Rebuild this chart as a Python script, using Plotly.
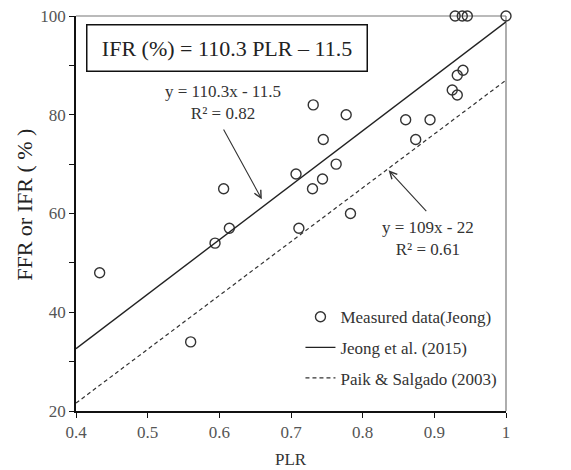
import plotly.graph_objects as go

# Measured PLR vs FFR/IFR (Jeong)
plr = [0.433, 0.560, 0.594, 0.606, 0.614, 0.707, 0.711, 0.730, 0.731, 0.744,
       0.745, 0.763, 0.777, 0.783, 0.860, 0.874, 0.894, 0.925, 0.932, 0.932,
       0.940, 0.929, 0.939, 0.946, 1.000]
ffr = [48, 34, 54, 65, 57, 68, 57, 65, 82, 67,
       75, 70, 80, 60, 79, 75, 79, 85, 88, 84,
       89, 100, 100, 100, 100]

# Regression lines: slope, intercept
jeong_coef = (110.3, -11.5)
paik_coef = (109.0, -22.0)
line_x = [0.4, 1.0]

x_ticks = [0.4, 0.5, 0.6, 0.7, 0.8, 0.9, 1.0]
x_tick_text = ["0.4", "0.5", "0.6", "0.7", "0.8", "0.9", "1"]
y_ticks = [20, 30, 40, 50, 60, 70, 80, 90, 100]
y_tick_text = ["20", "", "40", "", "60", "", "80", "", "100"]

FONT = "Liberation Serif, Times New Roman, serif"

fig = go.Figure()

fig.add_trace(go.Scatter(
    x=plr, y=ffr, mode="markers", name="Measured data(Jeong)",
    marker=dict(symbol="circle-open", size=10, color="#333333",
                line=dict(width=1.4, color="#333333")),
    cliponaxis=False, legendgroup="a",
))
fig.add_trace(go.Scatter(
    x=line_x, y=[jeong_coef[0] * v + jeong_coef[1] for v in line_x],
    mode="lines", name="Jeong et al. (2015)",
    line=dict(color="#222222", width=1.4), legendgroup="b",
))
fig.add_trace(go.Scatter(
    x=line_x, y=[paik_coef[0] * v + paik_coef[1] for v in line_x],
    mode="lines", name="Paik & Salgado (2003)",
    line=dict(color="#333333", width=1.2, dash="4px,3px"), legendgroup="c",
))

# Frame: top and right edges in lighter grey
fig.add_shape(type="line", xref="paper", yref="paper", x0=0, x1=1, y0=1, y1=1,
              line=dict(color="#777777", width=1.2), layer="below")
fig.add_shape(type="line", xref="paper", yref="paper", x0=1, x1=1, y0=0, y1=1,
              line=dict(color="#777777", width=1.2), layer="below")

annotations = [
    dict(text="IFR (%) = 110.3 PLR – 11.5", xref="paper", yref="paper",
         x=0.3512, y=0.919, xanchor="center", yanchor="middle", showarrow=False,
         font=dict(family=FONT, size=22, color="#222222"),
         bordercolor="#111111", borderwidth=1.5, borderpad=0,
         width=279, height=45, bgcolor="white"),
    dict(text="y = 110.3x - 11.5<br>R² = 0.82", x=0.6048, y=77.32,
         showarrow=False, xanchor="center", yanchor="bottom", yshift=3,
         font=dict(family=FONT, size=17, color="#333333")),
    dict(text="", x=0.6593, y=62.87, ax=0.6048, ay=77.32, axref="x", ayref="y",
         showarrow=True, arrowhead=5, arrowsize=1.3, arrowwidth=1.1,
         arrowcolor="#333333"),
    dict(text="y = 109x - 22<br>R² = 0.61", x=0.8907, y=60.17,
         showarrow=False, xanchor="center", yanchor="top", yshift=-3,
         font=dict(family=FONT, size=17, color="#333333")),
    dict(text="", x=0.8362, y=68.74, ax=0.8907, ay=60.17, axref="x", ayref="y",
         showarrow=True, arrowhead=5, arrowsize=1.3, arrowwidth=1.1,
         arrowcolor="#333333"),
    # Axis titles
    dict(text="PLR", xref="paper", yref="paper", x=0.5, y=0, yshift=-48,
         xanchor="center", yanchor="middle", showarrow=False,
         font=dict(family=FONT, size=17, color="#333333")),
    dict(text="FFR or IFR ( % )", xref="paper", yref="paper", x=0, y=0.522,
         xshift=-51, xanchor="center", yanchor="middle", showarrow=False,
         textangle=-90, font=dict(family=FONT, size=22, color="#222222")),
]

fig.update_layout(
    width=571, height=470,
    margin=dict(l=76, r=65, t=16, b=59, autoexpand=False),
    plot_bgcolor="white", paper_bgcolor="white",
    font=dict(family=FONT, color="#444444", size=17),
    showlegend=True,
    legend=dict(x=0.522, y=0.283, xanchor="left", yanchor="top",
                bgcolor="rgba(0,0,0,0)", tracegroupgap=5.5,
                font=dict(family=FONT, size=17, color="#333333")),
    annotations=annotations,
)

fig.update_xaxes(
    range=[0.4, 1.0], tickvals=x_ticks, ticktext=x_tick_text,
    ticks="outside", ticklen=5, tickwidth=1.3, tickcolor="#111111",
    showline=True, linecolor="#111111", linewidth=1.5, showgrid=False,
    zeroline=False, automargin=False,
    tickfont=dict(family=FONT, size=17, color="#555555"),
)
fig.update_yaxes(
    range=[20, 100], tickvals=y_ticks, ticktext=y_tick_text,
    ticks="outside", ticklen=5, tickwidth=1.3, tickcolor="#111111",
    showline=True, linecolor="#111111", linewidth=1.5, showgrid=False,
    zeroline=False, automargin=False,
    tickfont=dict(family=FONT, size=17, color="#555555"),
)

fig.write_html("out.html")
